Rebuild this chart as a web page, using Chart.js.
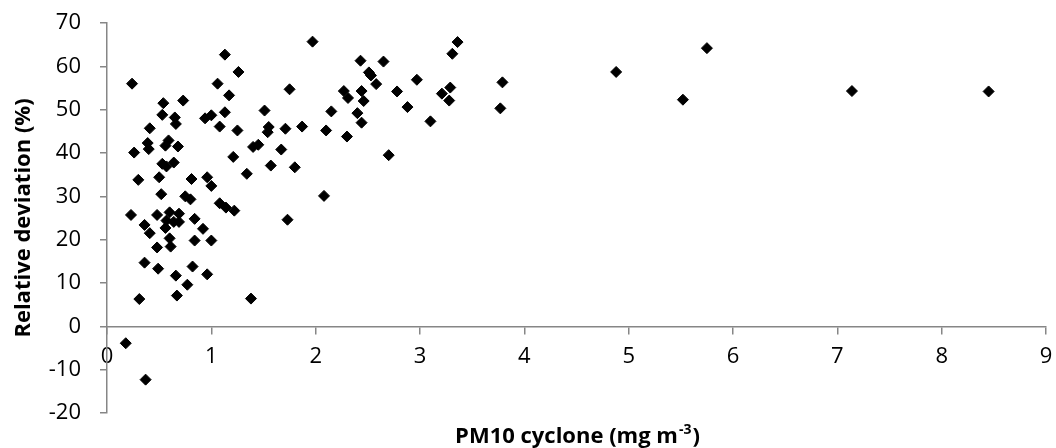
<!DOCTYPE html>
<html>
<head>
<meta charset="utf-8">
<script src="https://cdn.jsdelivr.net/npm/chart.js@4"></script>
<style>
    html, body { margin: 0; padding: 0; background: #fff; }
    #wrap { width: 1056px; height: 448px; }
</style>
</head>
<body>
<div id="wrap"><canvas id="chart"></canvas></div>
<script>
// PM10 cyclone concentration (mg m-3)
const pm10 = [
    0.18, 0.37, 0.24, 0.23, 0.26, 0.30, 0.31, 0.36, 0.36, 0.41,
    0.40, 0.39, 0.41, 0.48, 0.48, 0.49, 0.50, 0.52, 0.53, 0.53,
    0.54, 0.56, 0.57, 0.56, 0.59, 0.60, 0.61, 0.57, 0.60, 0.64,
    0.65, 0.66, 0.66, 0.67, 0.68, 0.64, 0.69, 0.69, 0.73, 0.75,
    0.80, 0.77, 0.81, 0.84, 0.82, 0.84, 0.92, 0.96, 0.94, 0.96,
    1.00, 1.00, 1.00, 1.06, 1.08, 1.08, 1.13, 1.13, 1.14, 1.17,
    1.21, 1.22, 1.25, 1.26, 1.34, 1.38, 1.40, 1.45, 1.51, 1.54,
    1.55, 1.57, 1.67, 1.71, 1.75, 1.73, 1.80, 1.87, 1.97, 2.08,
    2.10, 2.15, 2.27, 2.30, 2.31, 2.40, 2.43, 2.44, 2.44, 2.46,
    2.51, 2.53, 2.58, 2.65, 2.70, 2.78, 2.88, 2.97, 3.10, 3.21,
    3.28, 3.29, 3.31, 3.36, 3.77, 3.79, 4.88, 5.52, 5.75, 7.14,
    8.45
];
// relative deviation (%)
const deviation = [
    -3.9, -12.3, 56.0, 25.7, 40.1, 33.8, 6.3, 14.7, 23.4, 21.5,
    40.9, 42.3, 45.7, 25.7, 18.2, 13.3, 34.4, 30.5, 37.5, 48.8,
    51.5, 22.7, 36.9, 41.7, 42.9, 20.3, 18.4, 24.4, 26.3, 37.8,
    48.2, 46.7, 11.7, 7.1, 41.5, 24.1, 26.0, 24.1, 52.1, 30.0,
    29.3, 9.6, 34.0, 24.8, 13.8, 19.8, 22.5, 12.0, 48.0, 34.4,
    32.4, 48.7, 19.8, 56.0, 46.1, 28.4, 49.4, 62.7, 27.4, 53.3,
    39.1, 26.7, 45.2, 58.7, 35.2, 6.4, 41.4, 41.9, 49.8, 44.8,
    46.0, 37.1, 40.8, 45.6, 54.7, 24.6, 36.7, 46.1, 65.7, 30.1,
    45.2, 49.6, 54.3, 43.8, 52.7, 49.2, 61.3, 47.0, 54.3, 52.0,
    58.6, 57.9, 55.9, 61.1, 39.5, 54.2, 50.6, 56.9, 47.3, 53.7,
    52.1, 55.1, 62.9, 65.6, 50.3, 56.3, 58.7, 52.3, 64.2, 54.3,
    54.2
];
const xTicks = [0, 1, 2, 3, 4, 5, 6, 7, 8, 9];
const yTicks = [-20, -10, 0, 10, 20, 30, 40, 50, 60, 70];

const axisColor = "#868686";
const fontFamily = "'Open Sans', sans-serif";

// no extra room for half labels, the layout padding sets the plot box
const noPad = (scale) => {
    scale.paddingTop = 0;
    scale.paddingBottom = 0;
    scale.paddingLeft = 0;
    scale.paddingRight = 0;
};

// x axis title sits under the plot, centred on the plot area, with a superscript
const xTitle = {
    id: "xTitle",
    afterDraw(chart) {
        const ctx = chart.ctx;
        const area = chart.chartArea;
        const main = "PM10 cyclone (mg m";
        const sup = "-3";
        const end = ")";
        const big = "bold 22px " + fontFamily;
        const small = "bold 14px " + fontFamily;
        ctx.save();
        ctx.fillStyle = "#000";
        ctx.textBaseline = "alphabetic";
        ctx.font = big;
        const w1 = ctx.measureText(main).width;
        const w3 = ctx.measureText(end).width;
        ctx.font = small;
        const w2 = ctx.measureText(sup).width;
        let x = (area.left + area.right) / 2 - (w1 + w2 + w3) / 2;
        const y = 443;
        ctx.font = big;
        ctx.fillText(main, x, y);
        x += w1 + 1;
        ctx.font = small;
        ctx.fillText(sup, x, y - 9);
        x += w2 + 1;
        ctx.font = big;
        ctx.fillText(end, x, y);
        ctx.restore();
    },
};

const ctx = document.getElementById("chart").getContext("2d");
new Chart(ctx, {
    type: "scatter",
    data: {
        datasets: [
            {
                label: "Relative deviation",
                data: pm10.map((v, i) => ({ x: v, y: deviation[i] })),
                pointStyle: "rectRot",
                pointRadius: 5.5,
                pointBorderWidth: 1,
                pointBackgroundColor: "#000",
                pointBorderColor: "#000",
            },
        ],
    },
    options: {
        responsive: true,
        maintainAspectRatio: false,
        animation: false,
        layout: {
            padding: { top: 23, right: 10, bottom: 35, left: 0 },
        },
        plugins: {
            legend: { display: false },
            tooltip: { enabled: false },
        },
        scales: {
            x: {
                type: "linear",
                position: { y: 0 },
                min: 0,
                max: 9,
                afterBuildTicks: (scale) => {
                    scale.ticks = xTicks.map((v) => ({ value: v }));
                },
                afterFit: noPad,
                ticks: {
                    color: "#000",
                    font: { family: fontFamily, size: 22 },
                    padding: 10,
                    maxRotation: 0,
                },
                grid: {
                    drawOnChartArea: false,
                    drawTicks: true,
                    tickLength: 7,
                    color: axisColor,
                    lineWidth: 1.5,
                },
                border: { color: axisColor, width: 1.5 },
            },
            y: {
                type: "linear",
                min: -20,
                max: 70,
                afterBuildTicks: (scale) => {
                    scale.ticks = yTicks.map((v) => ({ value: v }));
                },
                afterFit: (scale) => {
                    scale.width = 107;
                    noPad(scale);
                },
                ticks: {
                    color: "#000",
                    font: { family: fontFamily, size: 22 },
                    padding: 19,
                },
                grid: {
                    drawOnChartArea: false,
                    drawTicks: true,
                    tickLength: 7,
                    color: axisColor,
                    lineWidth: 1.5,
                },
                border: { color: axisColor, width: 1.5 },
                title: {
                    display: true,
                    text: "Relative deviation (%)",
                    color: "#000",
                    font: { family: fontFamily, size: 22, weight: "bold" },
                    padding: { top: 11, bottom: 0 },
                },
            },
        },
    },
    plugins: [xTitle],
});
</script>
</body>
</html>
